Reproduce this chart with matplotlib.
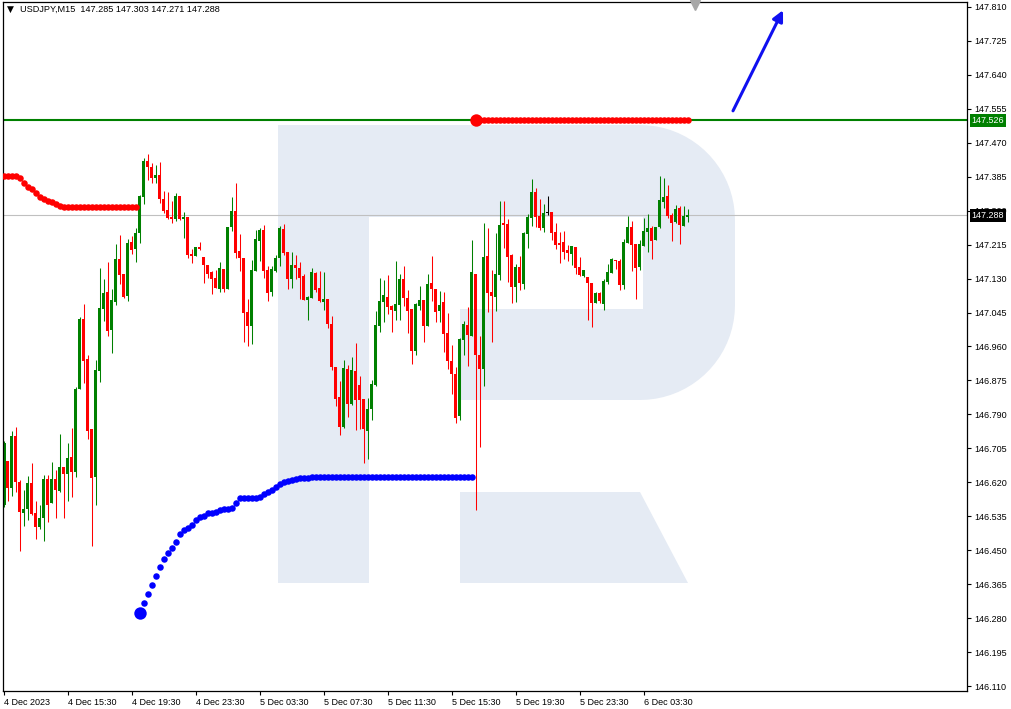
import matplotlib
matplotlib.use("Agg")
import matplotlib.pyplot as plt
import matplotlib.transforms as mtransforms
from matplotlib.patches import Polygon
import numpy as np

plt.rcParams['font.family'] = ['Liberation Sans', 'DejaVu Sans']

# --- data: USDJPY M15 candles (bar 0 = 4 Dec 11:30) ---
opens = [146.563, 146.673, 146.606, 146.736, 146.621, 146.543, 146.553, 146.618, 146.543, 146.508,
         146.530, 146.628, 146.568, 146.628, 146.598, 146.658, 146.641, 146.683, 146.646, 146.854,
         147.029, 146.929, 146.753, 146.633, 146.899, 147.054, 147.096, 147.001, 147.071, 147.179,
         147.141, 147.086, 147.222, 147.204, 147.244, 147.334, 147.424, 147.409, 147.382, 147.389,
         147.329, 147.302, 147.284, 147.279, 147.337, 147.279, 147.284, 147.192, 147.187, 147.209,
         147.184, 147.164, 147.146, 147.131, 147.104, 147.154, 147.104, 147.259, 147.299, 147.199,
         147.182, 147.046, 147.011, 147.149, 147.224, 147.252, 147.151, 147.096, 147.149, 147.182,
         147.254, 147.197, 147.129, 147.164, 147.157, 147.136, 147.076, 147.081, 147.144, 147.106,
         147.071, 147.079, 147.016, 146.909, 146.834, 146.758, 146.904, 146.816, 146.899, 146.864,
         146.829, 146.748, 146.804, 146.864, 147.011, 147.071, 147.084, 147.061, 147.049, 147.064,
         147.129, 147.081, 147.054, 146.949, 147.061, 147.076, 147.011, 147.119, 147.104, 147.049,
         147.071, 146.994, 146.924, 146.891, 146.786, 146.976, 147.014, 146.986, 147.141, 146.939,
         146.904, 147.187, 147.096, 147.084, 147.139, 147.269, 147.267, 147.189, 147.109, 147.159,
         147.116, 147.242, 147.282, 147.347, 147.287, 147.257, 147.294, 147.297, 147.247, 147.219,
         147.222, 147.202, 147.192, 147.209, 147.159, 147.136, 147.134, 147.119, 147.069, 147.094,
         147.066, 147.121, 147.144, 147.177, 147.174, 147.114, 147.219, 147.259, 147.217, 147.159,
         147.212, 147.247, 147.257, 147.227, 147.259, 147.322, 147.337, 147.289, 147.272, 147.307,
         147.262, 147.285]
highs = [146.723, 146.673, 146.748, 146.758, 146.626, 146.601, 146.636, 146.668, 146.573, 146.563,
         146.638, 146.638, 146.671, 146.651, 146.741, 146.658, 146.718, 146.756, 146.859, 147.034,
         147.066, 146.939, 146.753, 146.926, 147.157, 147.129, 147.172, 147.104, 147.217, 147.239,
         147.141, 147.229, 147.237, 147.257, 147.339, 147.432, 147.442, 147.419, 147.414, 147.422,
         147.349, 147.347, 147.324, 147.344, 147.337, 147.297, 147.284, 147.204, 147.209, 147.222,
         147.184, 147.164, 147.149, 147.151, 147.172, 147.154, 147.259, 147.334, 147.369, 147.242,
         147.182, 147.079, 147.177, 147.252, 147.257, 147.264, 147.162, 147.162, 147.189, 147.262,
         147.267, 147.197, 147.197, 147.189, 147.172, 147.141, 147.086, 147.157, 147.146, 147.149,
         147.146, 147.079, 147.036, 146.909, 146.874, 146.926, 146.914, 146.934, 146.969, 146.886,
         146.829, 146.831, 146.876, 147.049, 147.131, 147.126, 147.139, 147.064, 147.174, 147.141,
         147.162, 147.101, 147.054, 147.069, 147.111, 147.076, 147.141, 147.187, 147.104, 147.099,
         147.096, 147.044, 146.964, 146.909, 146.981, 147.024, 147.059, 147.227, 147.141, 146.986,
         147.269, 147.257, 147.151, 147.244, 147.324, 147.324, 147.279, 147.192, 147.167, 147.187,
         147.247, 147.292, 147.379, 147.357, 147.329, 147.317, 147.337, 147.297, 147.269, 147.247,
         147.249, 147.214, 147.212, 147.209, 147.184, 147.151, 147.134, 147.119, 147.096, 147.096,
         147.129, 147.167, 147.182, 147.177, 147.179, 147.229, 147.287, 147.274, 147.217, 147.227,
         147.282, 147.292, 147.262, 147.259, 147.387, 147.382, 147.364, 147.294, 147.314, 147.312,
         147.312, 147.303]
lows = [146.558, 146.573, 146.586, 146.596, 146.448, 146.511, 146.525, 146.538, 146.478, 146.503,
        146.473, 146.520, 146.568, 146.530, 146.596, 146.530, 146.573, 146.583, 146.633, 146.854,
        146.869, 146.728, 146.460, 146.563, 146.871, 147.024, 146.986, 146.944, 147.064, 147.116,
        147.081, 147.074, 147.192, 147.172, 147.219, 147.317, 147.377, 147.369, 147.369, 147.319,
        147.294, 147.279, 147.269, 147.274, 147.277, 147.232, 147.182, 147.169, 147.187, 147.202,
        147.119, 147.131, 147.091, 147.106, 147.096, 147.096, 147.104, 147.249, 147.182, 147.149,
        146.971, 146.961, 146.966, 147.149, 147.174, 147.131, 147.074, 147.086, 147.146, 147.162,
        147.189, 147.104, 147.106, 147.129, 147.079, 147.076, 147.026, 147.081, 147.096, 147.071,
        147.051, 147.006, 146.901, 146.811, 146.738, 146.756, 146.783, 146.813, 146.751, 146.753,
        146.668, 146.678, 146.776, 146.861, 146.996, 147.021, 147.041, 146.996, 147.026, 147.026,
        147.061, 146.994, 146.916, 146.939, 147.051, 146.971, 147.011, 147.074, 147.021, 147.021,
        146.946, 146.904, 146.841, 146.768, 146.776, 146.939, 146.911, 146.986, 146.551, 146.708,
        146.861, 147.046, 146.971, 147.049, 147.126, 147.207, 147.121, 147.069, 147.071, 147.101,
        147.104, 147.207, 147.262, 147.259, 147.252, 147.247, 147.289, 147.227, 147.204, 147.169,
        147.179, 147.174, 147.164, 147.141, 147.136, 147.134, 147.026, 147.009, 147.069, 147.069,
        147.051, 147.116, 147.144, 147.154, 147.101, 147.104, 147.219, 147.149, 147.079, 147.151,
        147.212, 147.197, 147.179, 147.227, 147.257, 147.307, 147.282, 147.224, 147.269, 147.217,
        147.262, 147.271]
closes = [146.718, 146.606, 146.736, 146.621, 146.546, 146.553, 146.618, 146.540, 146.508, 146.530,
          146.628, 146.563, 146.628, 146.601, 146.658, 146.641, 146.681, 146.646, 146.854, 147.029,
          146.924, 146.748, 146.631, 146.901, 147.056, 147.094, 146.999, 147.076, 147.179, 147.139,
          147.084, 147.219, 147.202, 147.244, 147.337, 147.424, 147.409, 147.382, 147.389, 147.329,
          147.299, 147.282, 147.279, 147.337, 147.279, 147.284, 147.189, 147.187, 147.209, 147.204,
          147.164, 147.141, 147.129, 147.106, 147.157, 147.104, 147.259, 147.299, 147.194, 147.182,
          147.044, 147.011, 147.151, 147.229, 147.252, 147.149, 147.094, 147.154, 147.182, 147.257,
          147.194, 147.129, 147.164, 147.157, 147.131, 147.076, 147.084, 147.146, 147.101, 147.074,
          147.079, 147.016, 146.909, 146.829, 146.758, 146.906, 146.816, 146.901, 146.826, 146.826,
          146.753, 146.804, 146.866, 147.014, 147.074, 147.089, 147.059, 147.051, 147.066, 147.129,
          147.081, 147.049, 146.949, 147.066, 147.076, 147.011, 147.116, 147.104, 147.046, 147.064,
          146.991, 146.924, 146.891, 146.781, 146.979, 147.016, 146.989, 147.146, 146.939, 146.904,
          147.184, 147.094, 147.086, 147.141, 147.264, 147.264, 147.184, 147.109, 147.159, 147.119,
          147.244, 147.284, 147.347, 147.284, 147.257, 147.294, 147.294, 147.244, 147.214, 147.214,
          147.197, 147.194, 147.212, 147.157, 147.139, 147.151, 147.119, 147.069, 147.094, 147.074,
          147.124, 147.146, 147.179, 147.174, 147.114, 147.222, 147.259, 147.214, 147.157, 147.217,
          147.249, 147.257, 147.224, 147.259, 147.327, 147.334, 147.287, 147.269, 147.304, 147.264,
          147.287, 147.288]

# upper red dotted indicator, bars 0..33
red_dots_start = 0
red_dots = [147.387, 147.387, 147.387, 147.387, 147.382, 147.369, 147.359, 147.354, 147.344, 147.334,
            147.329, 147.324, 147.322, 147.317, 147.312] + [147.309] * 19
# red dotted level, bars 118..171
red_level_start = 118
red_level = [147.526] * 54
# blue dotted indicator, bars 34..117
blue_start = 34
blue_dots = [146.293, 146.318, 146.340, 146.363, 146.385, 146.408, 146.428, 146.443, 146.455, 146.470,
             146.491, 146.501, 146.506, 146.513, 146.525, 146.533, 146.536, 146.543, 146.543, 146.546,
             146.551, 146.553, 146.553, 146.556, 146.568, 146.581, 146.581, 146.581, 146.581, 146.581,
             146.583, 146.591, 146.596, 146.601, 146.608, 146.616, 146.621, 146.623, 146.626, 146.628,
             146.631, 146.631, 146.631, 146.633] + [146.634] * 40

level_price = 147.526
last_price = 147.288
title = "USDJPY,M15  147.285 147.303 147.271 147.288"
xtick_bars = [0, 16, 32, 48, 64, 80, 96, 112, 128, 144, 160]
xtick_labels = ["4 Dec 2023", "4 Dec 15:30", "4 Dec 19:30", "4 Dec 23:30", "5 Dec 03:30",
                "5 Dec 07:30", "5 Dec 11:30", "5 Dec 15:30", "5 Dec 19:30", "5 Dec 23:30",
                "6 Dec 03:30"]
yticks = [146.110, 146.195, 146.280, 146.365, 146.450, 146.535, 146.620, 146.705, 146.790,
          146.875, 146.960, 147.045, 147.130, 147.215, 147.300, 147.385, 147.470, 147.555,
          147.640, 147.725, 147.810]
# forecast arrow (bar index, price)
arrow_from = (182.25, 147.550)
arrow_to = (194.75, 147.802)

GREEN = '#008000'
RED = '#ff0000'
BLUE = '#0000ff'
LOGO = '#e5ebf4'

W, H = 1012, 709
fig = plt.figure(figsize=(W / 100, H / 100), dpi=100)
fig.patch.set_facecolor('white')
ax = fig.add_axes([3 / W, 18 / H, 964 / W, 689 / H])
ax.set_facecolor('none')
ax.set_xlim(-0.25, 240.75)
ax.set_ylim(146.0975, 147.8225)

# watermark logo, drawn in pixel space of the figure
pix = mtransforms.Affine2D().scale(1 / W, -1 / H).translate(0, 1) + fig.transFigure
t = np.linspace(np.pi / 2, 0, 20)
top_arc = np.column_stack([640 + 95 * np.cos(t), 220 - 95 * np.sin(t)])
t2 = np.linspace(0, np.pi / 2, 20)
bot_arc = np.column_stack([640 + 95 * np.cos(t2), 305 + 95 * np.sin(t2)])
body = np.vstack([[[278, 125]], top_arc, bot_arc,
                  [[460, 400], [460, 309], [643, 309], [643, 217], [369, 217], [369, 583], [278, 583]]])
ax.add_patch(Polygon(body, closed=True, transform=pix, fc=LOGO, ec='none', zorder=0.5))
ax.add_patch(Polygon([[460, 492], [640, 492], [688, 583], [460, 583]], closed=True,
                     transform=pix, fc=LOGO, ec='none', zorder=0.5))

# horizontal lines
ax.axhline(last_price, color='#c0c0c0', lw=0.8, zorder=1)
ax.axhline(level_price, color=GREEN, lw=1.5, zorder=1.5)

# candles
o = np.array(opens); h = np.array(highs); l = np.array(lows); c = np.array(closes)
x = np.arange(len(o))
cols = np.where(c > o, GREEN, np.where(c < o, RED, 'black'))
ax.vlines(x, l, h, colors=cols, lw=0.75, zorder=2)
bh = np.maximum(np.abs(c - o), 0.0028)
ax.bar(x, bh, bottom=np.minimum(o, c), width=0.75, color=cols, lw=0, zorder=2.5)

# dotted indicators
xr = np.arange(red_dots_start, red_dots_start + len(red_dots))
ax.scatter(xr, red_dots, s=22, color=RED, lw=0, zorder=3)
xl = np.arange(red_level_start, red_level_start + len(red_level))
ax.scatter(xl, red_level, s=22, color=RED, lw=0, zorder=3)
ax.scatter([xl[0]], [red_level[0]], s=80, color=RED, lw=0, zorder=3)
xb = np.arange(blue_start, blue_start + len(blue_dots))
ax.scatter(xb, blue_dots, s=22, color=BLUE, lw=0, zorder=3)
ax.scatter([xb[0]], [blue_dots[0]], s=80, color=BLUE, lw=0, zorder=3)

# arrow
ax.annotate('', xy=arrow_to, xytext=arrow_from,
            arrowprops=dict(arrowstyle='-|>', color='#1010f0', lw=2.2, mutation_scale=16,
                            shrinkA=0, shrinkB=0), zorder=4)

# chart shift marker
ax.plot([172.75], [147.816], marker='v', color='#a8a8a8', ms=7, clip_on=False, zorder=4)

# axes styling
for s in ax.spines.values():
    s.set_color('black')
    s.set_linewidth(0.9)
ax.yaxis.tick_right()
ax.set_yticks(yticks)
ax.set_yticklabels([f"{v:.3f}" for v in yticks])
ax.set_xticks(xtick_bars)
ax.set_xticklabels(xtick_labels, ha='left')
ax.tick_params(axis='both', direction='out', length=3, width=0.8, color='black',
               labelsize=6.5, labelcolor='black')
ax.tick_params(axis='y', pad=2)
ax.tick_params(axis='x', pad=2)

# price boxes on the right axis
ax.annotate(f"{level_price:.3f}", xy=(1, level_price), xycoords=('axes fraction', 'data'),
            xytext=(3.2, 0), textcoords='offset points', ha='left', va='center', fontsize=6.5,
            color='white', annotation_clip=False, zorder=6,
            bbox=dict(boxstyle='square,pad=0.2', fc=GREEN, ec='none'))
ax.annotate(f"{last_price:.3f}", xy=(1, last_price), xycoords=('axes fraction', 'data'),
            xytext=(3.2, 0), textcoords='offset points', ha='left', va='center', fontsize=6.5,
            color='white', annotation_clip=False, zorder=6,
            bbox=dict(boxstyle='square,pad=0.2', fc='black', ec='none'))

# header
fig.text(7 / W, 1 - 9 / H, "\u25bc", fontsize=6.5, color='black', va='center', ha='left',
         family=['DejaVu Sans'])
fig.text(20 / W, 1 - 9 / H, title, fontsize=6.6, color='black', va='center', ha='left')

fig.savefig('out.png', dpi=100, facecolor='white')
